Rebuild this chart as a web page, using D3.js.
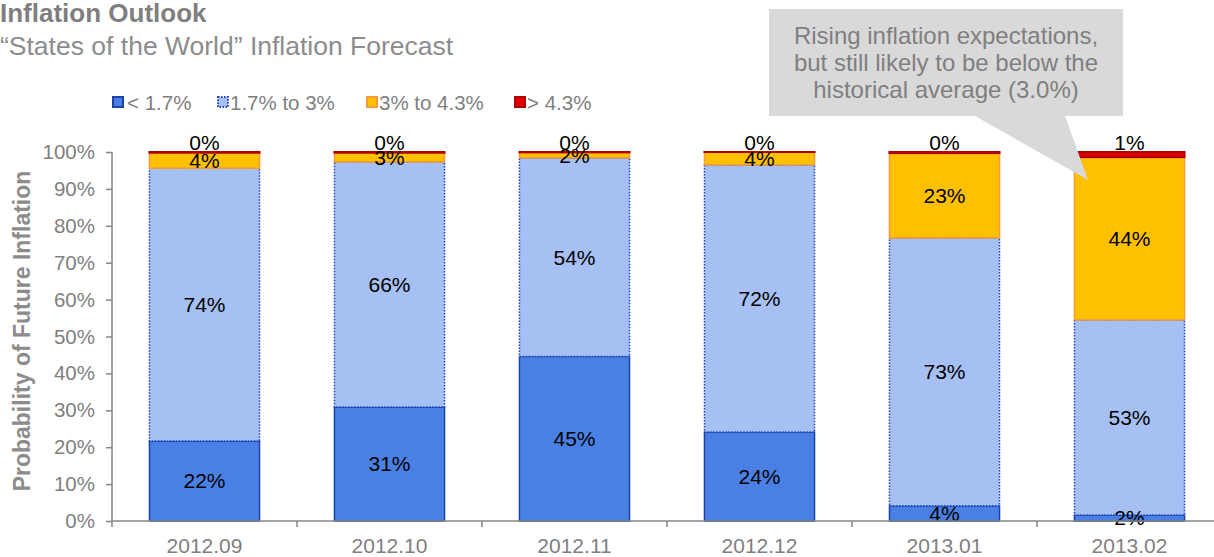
<!DOCTYPE html>
<html>
<head>
<meta charset="utf-8">
<script src="https://cdn.jsdelivr.net/npm/d3@7"></script>
<style>
  body { margin: 0; background: #fff; font-family: Arial, "Liberation Sans", sans-serif; }
  svg text { font-family: Arial, "Liberation Sans", sans-serif; }
</style>
</head>
<body>
<script>
// chart data
var months = ["2012.09", "2012.10", "2012.11", "2012.12", "2013.01", "2013.02"];
var seriesNames = ["< 1.7%", "1.7% to 3%", "3% to 4.3%", "> 4.3%"];
var below17 = [21.7, 30.9, 44.6, 24.1, 4.1, 1.6];
var from17to3 = [73.9, 66.4, 53.8, 72.4, 72.6, 52.9];
var from3to43 = [4.2, 2.5, 1.5, 3.5, 23.0, 44.1];
var above43 = [0.2, 0.2, 0.1, 0.0, 0.3, 1.4];
var yTicks = [0, 10, 20, 30, 40, 50, 60, 70, 80, 90, 100];
var calloutLines = ["Rising inflation expectations,", "but still likely to be below the", "historical average (3.0%)"];

var fills = ["#4A80E3", "#A6C0F4", "#FFC000", "#E00000"];
var strokes = ["#1C43A8", "#1C43C0", "#F79A3A", "#B00000"];
var dashes = [null, "1.5,1.5", null, null];

var W = 1214, H = 557;
var margin = {top: 152, right: 0, bottom: 36, left: 112};
var width = 1222 - margin.left, height = 521 - margin.top;

var svg = d3.select("body").append("svg")
    .attr("width", W)
    .attr("height", H);

// titles
svg.append("text").attr("x", 0).attr("y", 22)
    .style("font-size", "26px").style("font-weight", "bold").attr("fill", "#7F7F7F")
    .text("Inflation Outlook");
svg.append("text").attr("x", 0).attr("y", 55)
    .style("font-size", "26.5px").attr("fill", "#8C8C8C")
    .text("\u201CStates of the World\u201D Inflation Forecast");

// legend
var legendX = [112, 217, 366, 514];
seriesNames.forEach(function(name, i) {
  var g = svg.append("g").attr("transform", "translate(" + legendX[i] + ",96)");
  g.append("rect").attr("x", 1).attr("y", 1).attr("width", 10).attr("height", 10)
      .attr("fill", fills[i]).attr("stroke", strokes[i]).attr("stroke-width", 2)
      .attr("stroke-dasharray", dashes[i]);
  g.append("text").attr("x", i == 0 ? 15 : 13).attr("y", 14)
      .style("font-size", "20.5px").attr("fill", "#7F7F7F").text(name);
});

var chart = svg.append("g")
    .attr("transform", "translate(" + margin.left + "," + margin.top + ")");

var x = d3.scaleBand().domain(months).range([0, width]).paddingInner(0.405).paddingOuter(0.2025);
var y = d3.scaleLinear().domain([0, 100]).range([height, 0]);

// stacking
var rows = months.map(function(m, i) {
  return {month: m, s0: below17[i], s1: from17to3[i], s2: from3to43[i], s3: above43[i]};
});
var stack = d3.stack().keys(["s0", "s1", "s2", "s3"]);
var layers = stack(rows);

layers.forEach(function(layer, li) {
  var g = chart.append("g");
  g.selectAll("rect").data(layer).enter().append("rect")
      .attr("x", function(d) { return x(d.data.month); })
      .attr("width", x.bandwidth())
      .attr("y", function(d) { return y(d[1]); })
      .attr("height", function(d) { return Math.max(0.01, y(d[0]) - y(d[1])); })
      .attr("fill", fills[li])
      .attr("stroke", strokes[li])
      .attr("stroke-width", li == 3 ? 2 : 1.5)
      .attr("stroke-dasharray", dashes[li]);
});

// data labels
layers.forEach(function(layer, li) {
  chart.append("g").selectAll("text").data(layer).enter().append("text")
      .attr("x", function(d) { return x(d.data.month) + x.bandwidth() / 2; })
      .attr("y", function(d) {
        if (li == 3) return y(d[1]) - 9;
        return (y(d[0]) + y(d[1])) / 2;
      })
      .attr("dy", "0.35em")
      .attr("text-anchor", "middle")
      .style("font-size", "21px")
      .attr("fill", "#000")
      .text(function(d) { return Math.round(d[1] - d[0]) + "%"; });
});

// axes
var yAxis = chart.append("g")
    .call(d3.axisLeft(y).tickValues(yTicks).tickSize(6).tickPadding(11)
      .tickFormat(function(d) { return d + "%"; }));
yAxis.select(".domain").attr("stroke", "#868686").attr("stroke-width", 1.5).attr("d", "M0," + height + "V0");
yAxis.selectAll(".tick line").attr("stroke", "#868686").attr("stroke-width", 1.5);
yAxis.selectAll(".tick text").attr("fill", "#7F7F7F").style("font-size", "20.5px");

var xAxis = chart.append("g")
    .attr("transform", "translate(0," + height + ")")
    .call(d3.axisBottom(x).tickSize(0));
xAxis.select(".domain").attr("stroke", "#868686").attr("stroke-width", 1.5).attr("d", "M0,0H" + width);
xAxis.selectAll(".tick text").attr("fill", "#7F7F7F").style("font-size", "21px")
    .attr("y", 32).attr("dy", 0);

// tick marks between categories
var step = x.step();
var start = x(months[0]) - step * x.paddingOuter();
chart.append("g").selectAll("line").data(d3.range(months.length + 1)).enter().append("line")
    .attr("x1", function(i) { return start + i * step; })
    .attr("x2", function(i) { return start + i * step; })
    .attr("y1", height).attr("y2", height + 6)
    .attr("stroke", "#868686").attr("stroke-width", 1.5);

// y axis title
svg.append("text")
    .attr("transform", "translate(30,331) rotate(-90)")
    .attr("text-anchor", "middle")
    .style("font-size", "23px").style("font-weight", "bold").attr("fill", "#8C8C8C")
    .text("Probability of Future Inflation");

// callout
var callout = svg.append("g");
callout.append("path")
    .attr("d", "M769,9 H1123 V116 H1065 L1088,180 L975,116 H769 Z")
    .attr("fill", "#D9D9D9");
callout.selectAll("text").data(calloutLines).enter().append("text")
    .attr("x", 946)
    .attr("y", function(d, i) { return 44 + i * 27; })
    .attr("text-anchor", "middle")
    .style("font-size", "24px").attr("fill", "#7F7F7F")
    .text(function(d) { return d; });
</script>
</body>
</html>
